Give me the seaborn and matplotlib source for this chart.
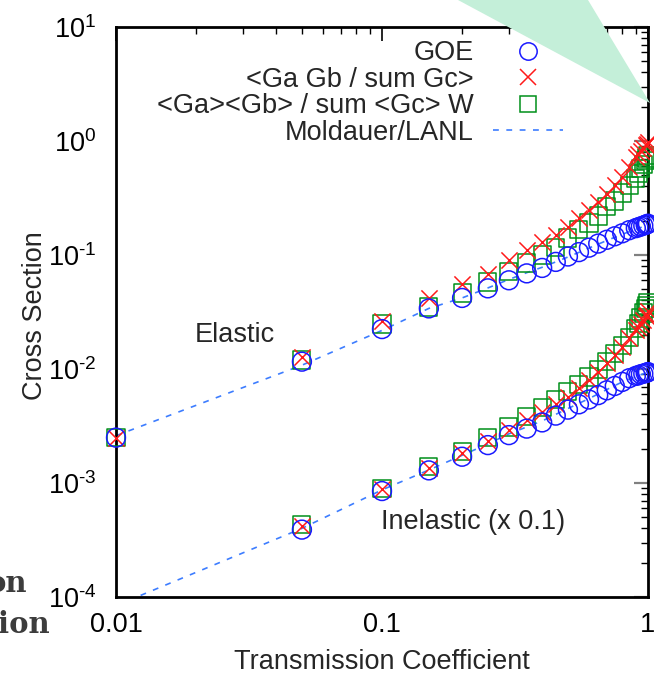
import matplotlib
matplotlib.use("Agg")
import matplotlib.pyplot as plt
import numpy as np
import pandas as pd
import seaborn as sns
from matplotlib.lines import Line2D
from matplotlib.patches import Polygon
from matplotlib.ticker import FixedLocator, FixedFormatter, LogLocator, NullFormatter

# Transmission coefficients of the computed points
T = [0.01, 0.05, 0.1, 0.15, 0.2, 0.25, 0.3, 0.35, 0.4, 0.45, 0.5, 0.55, 0.6,
     0.65, 0.7, 0.75, 0.8, 0.85, 0.9, 0.92, 0.94, 0.96, 0.98, 0.99, 1.0]

# Elastic cross sections
goe_el = [0.0025, 0.0116, 0.0224, 0.034, 0.042, 0.051, 0.060, 0.069, 0.077,
          0.087, 0.097, 0.106, 0.116, 0.126, 0.136, 0.146, 0.155, 0.165,
          0.172, 0.175, 0.178, 0.181, 0.184, 0.186, 0.188]
ratio_el = [0.0025, 0.0127, 0.0264, 0.042, 0.0557, 0.068, 0.090, 0.111, 0.130,
            0.150, 0.176, 0.211, 0.248, 0.292, 0.343, 0.411, 0.483, 0.59,
            0.72, 0.77, 0.82, 0.87, 0.92, 0.95, 0.98]
width_el = [0.0025, 0.0120, 0.0248, 0.035, 0.0464, 0.058, 0.072, 0.085, 0.100,
            0.117, 0.141, 0.166, 0.191, 0.220, 0.264, 0.298, 0.350, 0.410,
            0.47, 0.52, 0.57, 0.62, 0.67, 0.71, 0.75]

# Inelastic cross sections (already scaled by 0.1); starts at T = 0.05
T_in = T[1:]
goe_in = [0.00039, 0.00085, 0.00129, 0.0017, 0.00215, 0.00263, 0.0030, 0.0034,
          0.0039, 0.0044, 0.0049, 0.0054, 0.0059, 0.0065, 0.0071, 0.0077,
          0.0083, 0.0087, 0.0088, 0.0090, 0.0091, 0.0092, 0.0093, 0.0094]
ratio_in = [0.00042, 0.00089, 0.00136, 0.00182, 0.00235, 0.0029, 0.0036,
            0.0042, 0.0049, 0.0057, 0.0068, 0.0080, 0.0094, 0.0113, 0.0133,
            0.0157, 0.0187, 0.0220, 0.0235, 0.0250, 0.0270, 0.0290, 0.0300,
            0.0320]
width_in = [0.00043, 0.00090, 0.0014, 0.0019, 0.0025, 0.0031, 0.0038, 0.0046,
            0.0054, 0.0063, 0.0073, 0.0085, 0.0099, 0.0116, 0.0136, 0.0160,
            0.0190, 0.0225, 0.0250, 0.0280, 0.0310, 0.0340, 0.0360, 0.0380]

# Moldauer/LANL Hauser-Feshbach curves
T_ml = [0.01, 0.05, 0.1, 0.15, 0.2, 0.25, 0.3, 0.35, 0.4, 0.45, 0.5, 0.6,
        0.7, 0.8, 0.9, 0.95, 1.0]
ml_el = [0.0026, 0.0108, 0.0218, 0.034, 0.042, 0.0514, 0.061, 0.070, 0.078,
         0.087, 0.096, 0.115, 0.134, 0.152, 0.168, 0.176, 0.183]
ml_in = [0.000084, 0.00040, 0.00087, 0.0013, 0.00175, 0.0022, 0.0027, 0.0031,
         0.0035, 0.0040, 0.0045, 0.0055, 0.0066, 0.0077, 0.0086, 0.0090, 0.0093]

x_ticks = [0.01, 0.1, 1]
x_tick_labels = ["0.01", "0.1", "1"]
y_exponents = [-4, -3, -2, -1, 0, 1]

legend_labels = ["GOE", "<Ga Gb / sum Gc>", "<Ga><Gb> / sum <Gc> W",
                 "Moldauer/LANL"]

BLUE = "#1a1aff"
RED = "#ff1a1a"
GREEN = "#00901a"
DASH = "#3d7dff"
FS = 19.5

sns.set_style("white")
plt.rcParams["font.family"] = ["Liberation Sans", "DejaVu Sans"]
plt.rcParams["mathtext.fontset"] = "custom"
plt.rcParams["mathtext.rm"] = "Liberation Sans"
plt.rcParams["mathtext.default"] = "regular"

W, H = 654, 678
fig = plt.figure(figsize=(W / 100, H / 100), dpi=100)
ax = fig.add_axes([116 / W, 1 - 597 / H, (648 - 116) / W, (597 - 27) / H])

df_el = pd.DataFrame({"T": T, "goe": goe_el, "ratio": ratio_el, "width": width_el})
df_in = pd.DataFrame({"T": T_in, "goe": goe_in, "ratio": ratio_in, "width": width_in})
df_ml = pd.DataFrame({"T": T_ml + T_ml, "sigma": ml_el + ml_in,
                      "branch": ["el"] * len(T_ml) + ["in"] * len(T_ml)})

ms = 160
for df in (df_el, df_in):
    sns.scatterplot(data=df, x="T", y="width", marker="s", s=ms * 0.95,
                    facecolors="none", edgecolor=GREEN, linewidth=1.1,
                    ax=ax, clip_on=False, zorder=3)
    sns.scatterplot(data=df, x="T", y="ratio", marker="x", s=ms * 0.85,
                    color=RED, linewidth=1.1, ax=ax, clip_on=False, zorder=4)
    sns.scatterplot(data=df, x="T", y="goe", marker="o", s=ms * 1.15,
                    facecolors="none", edgecolor=BLUE, linewidth=1.1,
                    ax=ax, clip_on=False, zorder=5)

for branch in ("el", "in"):
    sub = df_ml[df_ml["branch"] == branch]
    sns.lineplot(data=sub, x="T", y="sigma", color=DASH, lw=1.2,
                 dashes=False, ax=ax, zorder=2, sort=False,
                 estimator=None)
for line in ax.get_lines():
    line.set_dashes([3.5, 4.5])

ax.set_xscale("log")
ax.set_yscale("log")
ax.set_xlim(0.01, 1)
ax.set_ylim(1e-4, 10)

ax.xaxis.set_major_locator(FixedLocator(x_ticks))
ax.xaxis.set_major_formatter(FixedFormatter(x_tick_labels))
ax.xaxis.set_minor_locator(LogLocator(base=10, subs=np.arange(2, 10)))
ax.xaxis.set_minor_formatter(NullFormatter())
ax.yaxis.set_major_locator(FixedLocator([10.0 ** e for e in y_exponents]))
ax.yaxis.set_major_formatter(FixedFormatter(
    [r"$10^{\text{%d}}$" % e for e in y_exponents]))
ax.yaxis.set_minor_locator(LogLocator(base=10, subs=np.arange(2, 10)))
ax.yaxis.set_minor_formatter(NullFormatter())

ax.tick_params(which="both", direction="in", top=True, right=True,
               labelsize=FS, colors="black")
ax.tick_params(which="major", length=10, width=1.2)
ax.tick_params(axis="x", which="major", pad=11)
ax.tick_params(axis="y", which="major", color="#808080", width=1.6, pad=14)
ax.tick_params(which="minor", length=5, width=1.0)
for sp in ax.spines.values():
    sp.set_linewidth(2.0)
    sp.set_color("black")

ax.set_xlabel("Transmission Coefficient", fontsize=FS, labelpad=8)
ax.set_ylabel("Cross Section", fontsize=FS)
ax.yaxis.set_label_coords(-0.128, 0.493)

ax.text(0.028, 0.020, "Elastic", fontsize=FS, ha="center", va="center")
ax.text(0.22, 0.000455, "Inelastic (x 0.1)", fontsize=FS, ha="center",
        va="center")

handles = [
    Line2D([], [], ls="none", marker="o", ms=12.5, mfc="none", mec=BLUE, mew=1.1),
    Line2D([], [], ls="none", marker="x", ms=11.5, color=RED, mew=1.1),
    Line2D([], [], ls="none", marker="s", ms=11.5, mfc="none", mec=GREEN, mew=1.1),
    Line2D([], [], color=DASH, lw=1.2, dashes=[3.5, 4.5]),
]
ax.legend(handles, legend_labels, loc="upper right", frameon=False,
          markerfirst=False, fontsize=FS, handlelength=2.6,
          handletextpad=0.7, labelspacing=0.02, borderpad=0,
          borderaxespad=0, bbox_to_anchor=(563 / W, 1 - 40 / H),
          bbox_transform=fig.transFigure)

# slide decorations around the plot
tri = Polygon([[458 / W, 1.0], [588 / W, 1.0], [650 / W, 1 - 103 / H]],
              closed=True, transform=fig.transFigure, facecolor="#c4efd9",
              edgecolor="none", zorder=10)
fig.add_artist(tri)
fig.text(27 / W, 1 - 592 / H, "on", fontsize=21, fontweight="bold",
         family="DejaVu Serif", color="#3c3c3c", ha="right", va="baseline")
fig.text(50 / W, 1 - 633 / H, "ion", fontsize=21, fontweight="bold",
         family="DejaVu Serif", color="#3c3c3c", ha="right", va="baseline")

fig.savefig("out.png", dpi=100)
